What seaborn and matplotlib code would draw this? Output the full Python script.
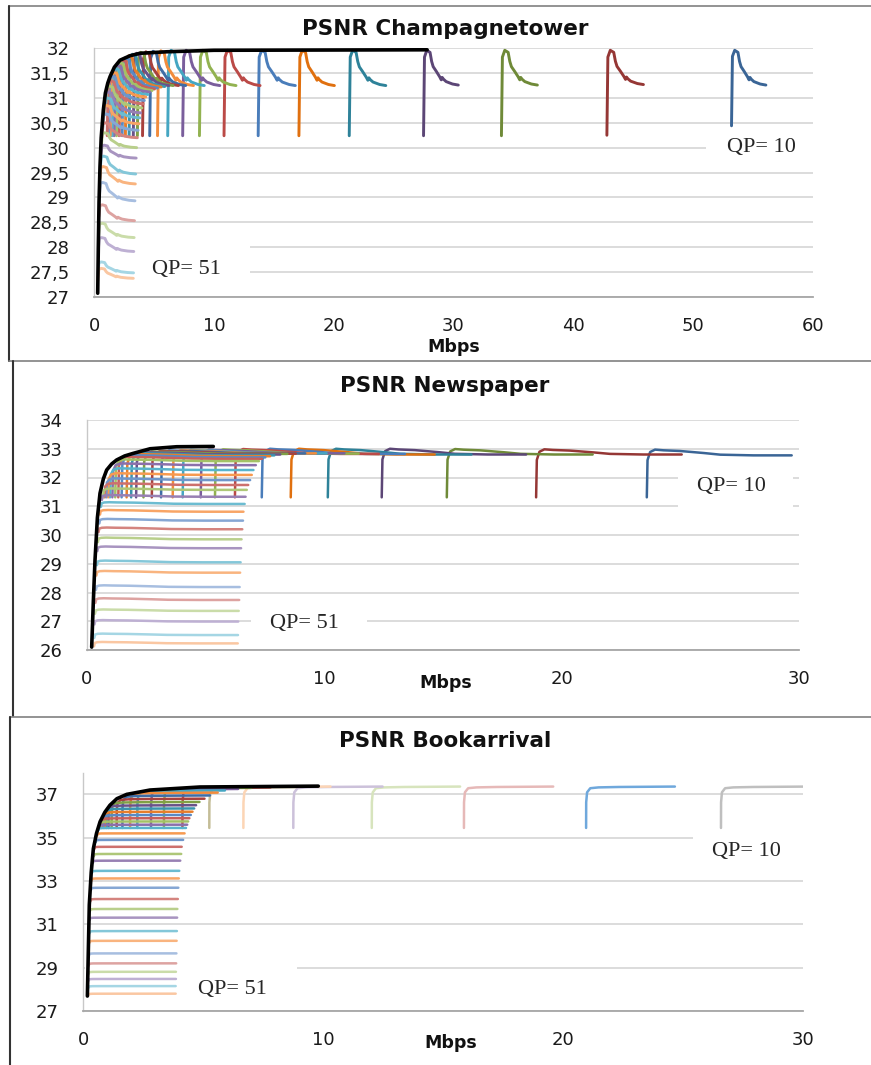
import numpy as np
import pandas as pd
import matplotlib
matplotlib.use("Agg")
import matplotlib.pyplot as plt
from matplotlib.lines import Line2D
from matplotlib.patches import Rectangle
from matplotlib.ticker import MultipleLocator, FuncFormatter
import seaborn as sns

# QP values of the traces (QP=10 is the rightmost trace, QP=51 the lowest)
QP = list(range(10, 52))

# ---- PSNR Champagnetower: start x, bottom y, peak y, final y, end x ----
CH_X0 = [53.2, 42.8, 34.0, 27.5, 21.3, 17.1, 13.7, 10.85, 8.8, 7.4, 6.15, 5.3, 4.65, 4.05,
         3.62, 3.28, 2.93, 2.62, 2.35, 2.1, 1.88, 1.68, 1.5, 1.35, 1.22, 1.1, 1.0, 0.92,
         0.85, 0.78, 0.72, 0.66, 0.61, 0.57, 0.53, 0.49, 0.45, 0.41, 0.38, 0.36, 0.33, 0.32]
CH_Y0 = [30.44, 30.25, 30.24, 30.24, 30.24, 30.24, 30.24, 30.24, 30.24, 30.24, 30.24, 30.24,
         30.24, 30.24, 30.24, 30.24, 30.24, 30.24, 30.24, 30.24, 30.24, 30.24, 30.24, 30.24,
         30.24, 30.24, 30.9, 30.78, 30.66, 30.52, 30.36, 30.2, 30.02, 29.8, 29.6, 29.38,
         29.05, 28.62, 28.25, 27.95, 27.47, 27.33]
CH_YPK = [31.96, 31.96, 31.96, 31.96, 31.96, 31.96, 31.96, 31.96, 31.96, 31.96, 31.96, 31.95,
          31.94, 31.93, 31.92, 31.9, 31.88, 31.85, 31.81, 31.77, 31.72, 31.66, 31.6, 31.52,
          31.44, 31.35, 31.24, 31.12, 31.0, 30.85, 30.68, 30.5, 30.3, 30.05, 29.83, 29.62,
          29.3, 28.85, 28.48, 28.19, 27.7, 27.57]
CH_YEND = [31.26, 31.27, 31.26, 31.26, 31.25, 31.25, 31.25, 31.25, 31.25, 31.25, 31.25, 31.25,
           31.25, 31.25, 31.25, 31.25, 31.23, 31.22, 31.2, 31.18, 31.15, 31.12, 31.07, 31.02,
           30.95, 30.88, 30.8, 30.7, 30.6, 30.48, 30.35, 30.2, 30.0, 29.79, 29.47, 29.27,
           28.93, 28.53, 28.19, 27.91, 27.48, 27.37]
CH_X1 = [56.07, 45.85, 37.0, 30.4, 24.35, 20.06, 16.8, 13.86, 11.85, 10.5, 9.2, 8.3, 7.65,
         7.05, 6.6, 6.25, 5.9, 5.6, 5.3, 5.05, 4.85, 4.65, 4.5, 4.32, 4.2, 4.1, 4.0, 3.9,
         3.82, 3.75, 3.68, 3.62, 3.56, 3.52, 3.48, 3.45, 3.42, 3.38, 3.35, 3.32, 3.3, 3.28]
# shape of one trace (read from the QP=10 trace): x fraction of span, rise/decay fraction
CH_DX = [0.0, 0.027, 0.093, 0.187, 0.233, 0.277, 0.37, 0.463, 0.51, 0.537, 0.573, 0.65, 0.833, 1.0]
CH_T = [-1, -0.08, 0, 0.06, 0.32, 0.47, 0.61, 0.76, 0.85, 0.78, 0.83, 0.90, 0.97, 1.0]
CH_ENV_X = [0.31, 0.36, 0.42, 0.5, 0.6, 0.78, 0.95, 1.15, 1.34, 1.7, 2.17, 3.0, 3.84, 6.07, 10.0, 27.8]
CH_ENV_Y = [27.07, 28.0, 28.9, 29.62, 30.2, 30.76, 31.1, 31.3, 31.43, 31.62, 31.76, 31.85, 31.9,
            31.93, 31.96, 31.97]

# ---- PSNR Newspaper ----
NP_X0 = [23.58, 18.92, 15.16, 12.42, 10.15, 8.59, 7.37, 6.24, 5.4, 4.8, 4.04, 3.62, 3.13,
         2.74, 2.39, 2.08, 1.87, 1.68, 1.47, 1.33, 1.2, 1.08, 0.98, 0.9, 0.82, 0.75, 0.69,
         0.64, 0.6, 0.56, 0.53, 0.5, 0.47, 0.45, 0.43, 0.41, 0.39, 0.37, 0.35, 0.33, 0.32, 0.31]
NP_Y0 = [31.31, 31.31, 31.31, 31.31, 31.31, 31.31, 31.31, 31.31, 31.31, 31.31, 31.31, 31.31,
         31.31, 31.31, 31.31, 31.31, 31.31, 31.31, 31.31, 31.31, 31.31, 31.31, 31.31, 31.31,
         31.31, 31.31, 31.31, 31.22, 30.98, 30.71, 30.4, 30.1, 29.75, 29.44, 28.95, 28.59,
         28.09, 27.64, 27.26, 26.89, 26.42, 26.13]
NP_YPK = [32.97, 32.98, 32.99, 33.0, 33.0, 33.0, 33.0, 32.99, 32.98, 32.97, 32.96, 32.95,
          32.94, 32.92, 32.9, 32.88, 32.85, 32.82, 32.78, 32.72, 32.63, 32.49, 32.32, 32.15,
          31.97, 31.8, 31.62, 31.39, 31.14, 30.87, 30.56, 30.26, 29.91, 29.6, 29.11, 28.75,
          28.25, 27.8, 27.41, 27.04, 26.57, 26.28]
NP_YEND = [32.77, 32.8, 32.8, 32.8, 32.8, 32.8, 32.82, 32.82, 32.83, 32.84, 32.84, 32.84,
           32.84, 32.83, 32.82, 32.8, 32.77, 32.74, 32.7, 32.65, 32.57, 32.43, 32.26, 32.09,
           31.91, 31.74, 31.57, 31.33, 31.08, 30.81, 30.5, 30.2, 29.85, 29.54, 29.05, 28.69,
           28.19, 27.74, 27.36, 26.99, 26.52, 26.23]
NP_X1 = [29.68, 25.05, 21.3, 18.5, 16.2, 14.65, 13.4, 12.3, 11.45, 10.85, 10.1, 9.65, 9.2,
         8.8, 8.45, 8.15, 7.9, 7.72, 7.52, 7.38, 7.25, 7.12, 7.02, 6.95, 6.88, 6.8, 6.74,
         6.69, 6.65, 6.6, 6.58, 6.55, 6.52, 6.5, 6.48, 6.46, 6.44, 6.42, 6.4, 6.38, 6.37, 6.36]
NP_DX = [0, 0.005, 0.023, 0.057, 0.115, 0.23, 0.392, 0.507, 0.736, 1.0]
NP_T = [-1, -0.22, -0.05, 0, 0.12, 0.24, 0.59, 0.88, 1.0, 1.0]
NP_ENV_X = [0.21, 0.28, 0.35, 0.45, 0.56, 0.7, 0.84, 1.05, 1.26, 1.6, 1.96, 2.67, 3.79, 5.33]
NP_ENV_Y = [26.1, 27.7, 29.13, 30.6, 31.45, 31.95, 32.26, 32.47, 32.61, 32.75, 32.84, 33.0,
            33.07, 33.08]

# ---- PSNR Bookarrival (traces settle to a flat level) ----
BA_X0 = [26.57, 20.95, 15.86, 12.02, 8.75, 6.67, 5.25, 4.13, 3.36, 2.82, 2.25, 1.95, 1.63,
         1.39, 1.18, 1.05, 0.97, 0.9, 0.83, 0.77, 0.72, 0.68, 0.63, 0.58, 0.52, 0.46, 0.44,
         0.4, 0.36, 0.34, 0.32, 0.3, 0.28, 0.27, 0.26, 0.25, 0.24, 0.23, 0.22, 0.21, 0.21, 0.2]
BA_Y0 = [35.45, 35.45, 35.45, 35.45, 35.45, 35.45, 35.45, 35.45, 35.45, 35.45, 35.45, 35.45,
         35.45, 35.45, 35.45, 35.45, 35.45, 35.45, 35.45, 35.45, 35.45, 35.45, 35.35, 35.1,
         34.8, 34.48, 34.15, 33.84, 33.37, 33.02, 32.59, 32.07, 31.61, 31.21, 30.59, 30.14,
         29.56, 29.1, 28.71, 28.38, 28.05, 27.7]
BA_LEVEL = [37.36, 37.36, 37.36, 37.36, 37.36, 37.36, 37.34, 37.32, 37.3, 37.25, 37.18, 37.08,
            36.95, 36.8, 36.65, 36.5, 36.35, 36.2, 36.05, 35.9, 35.75, 35.6, 35.45, 35.2,
            34.9, 34.58, 34.25, 33.94, 33.47, 33.12, 32.69, 32.17, 31.71, 31.31, 30.69, 30.24,
            29.66, 29.2, 28.81, 28.48, 28.15, 27.8]
BA_X1 = [30.22, 24.65, 19.58, 15.7, 12.47, 10.3, 8.9, 7.8, 7.0, 6.45, 5.9, 5.6, 5.28, 5.05,
         4.84, 4.7, 4.62, 4.55, 4.48, 4.42, 4.37, 4.33, 4.28, 4.22, 4.16, 4.1, 4.08, 4.04,
         4.0, 3.98, 3.96, 3.94, 3.92, 3.91, 3.9, 3.89, 3.88, 3.87, 3.86, 3.86, 3.85, 3.85]
BA_DX = [0, 0.001, 0.011, 0.047, 0.14, 0.37, 1.0]
BA_T = [-1, -0.38, -0.14, -0.04, -0.02, -0.01, 0]
BA_ENV_X = [0.17, 0.21, 0.25, 0.33, 0.42, 0.55, 0.7, 0.9, 1.11, 1.4, 1.81, 2.78, 4.86, 9.79]
BA_ENV_Y = [27.69, 29.8, 31.9, 33.4, 34.5, 35.2, 35.74, 36.18, 36.5, 36.8, 37.0, 37.2, 37.34, 37.38]

# Excel-like series colours: 6 hues, shade changes every 6 series
SHADES = [
    ['#3A6596', '#953735', '#6F8A38', '#5C4676', '#2E8299', '#E0700F'],
    ['#4A7DBA', '#BB4A47', '#92B250', '#7A5E9C', '#45A6C2', '#F28C3C'],
    ['#3F6DA6', '#A8413E', '#80A046', '#6A5289', '#3B94AD', '#E67E2C'],
    ['#5A8AC4', '#C8605C', '#A3C166', '#8B70AB', '#58B4CC', '#F79A50'],
    ['#6F96CB', '#CD706D', '#AEC778', '#9880B3', '#6CBCD1', '#F8A566'],
    ['#86A7D4', '#D4847F', '#B9CF8C', '#A894C0', '#84C7D9', '#F9B47F'],
    ['#A7BEE0', '#DDA3A1', '#CADCA9', '#BEB0D3', '#A5D6E4', '#FAC7A2'],
]
BA_TOP_COLORS = ['#BFBFBF', '#6FA8DC', '#E6B9B8', '#D7E4BD', '#CCC1DA', '#FCD5B5', '#C4BD97']

sns.set_style("white")
plt.rcParams['font.family'] = ['DejaVu Sans']

W, H = 871, 1065
fig = plt.figure(figsize=(W / 100, H / 100), dpi=100)


def fx(px):
    return px / W


def fy(py):
    return 1 - py / H


def trace_frame(x0, y0, ypk, yend, x1, dx, tt):
    rows = []
    for k, q in enumerate(QP):
        for d, t in zip(dx, tt):
            x = x0[k] + d * (x1[k] - x0[k])
            if t < 0:
                y = ypk[k] + t * (ypk[k] - y0[k])
            else:
                y = ypk[k] - t * (ypk[k] - yend[k])
            rows.append((f"QP{q}", x, y))
    return pd.DataFrame(rows, columns=["qp", "mbps", "psnr"])


def draw_panel(rect, df, colors, env_x, env_y, lw, xlim, ylim, ystep, comma, covers):
    ax = fig.add_axes(rect)
    order = [f"QP{q}" for q in QP]
    pal = dict(zip(order, colors))
    # white boxes behind the QP labels hide parts of the gridlines, as in the original
    for (cx0, cy0, cx1, cy1) in covers:
        ax.add_patch(Rectangle((cx0, cy0), cx1 - cx0, cy1 - cy0, facecolor='white',
                               edgecolor='none', zorder=1.2))
    sns.lineplot(data=df, x="mbps", y="psnr", hue="qp", hue_order=order, palette=pal,
                 sort=False, estimator=None, legend=False, linewidth=lw, ax=ax)
    sns.lineplot(x=env_x, y=env_y, color='black', sort=False, estimator=None,
                 linewidth=2.6, ax=ax)
    ax.lines[-1].set_zorder(5)
    for ln in ax.lines:
        ln.set_solid_capstyle('round')
        ln.set_solid_joinstyle('round')
    ax.set_xlim(*xlim)
    ax.set_ylim(*ylim)
    ax.xaxis.set_major_locator(MultipleLocator(10))
    ax.yaxis.set_major_locator(MultipleLocator(ystep))
    if comma:
        ax.yaxis.set_major_formatter(FuncFormatter(lambda v, p: f"{v:g}".replace('.', ',')))
    else:
        ax.yaxis.set_major_formatter(FuncFormatter(lambda v, p: f"{v:g}"))
    ax.set_axisbelow(True)
    ax.yaxis.grid(True, color='#D9D9D9', linewidth=1.3)
    ax.xaxis.grid(False)
    ax.set_xlabel('')
    ax.set_ylabel('')
    for s in ['top', 'right']:
        ax.spines[s].set_visible(False)
    ax.spines['left'].set_color('#C8C8C8')
    ax.spines['left'].set_linewidth(1.0)
    ax.spines['bottom'].set_color('#A6A6A6')
    ax.spines['bottom'].set_linewidth(1.3)
    ax.tick_params(axis='y', direction='out', length=6.5, width=1.3, color='#D9D9D9',
                   pad=11, labelsize=13, labelcolor='#1a1a1a')
    ax.tick_params(axis='x', direction='out', length=4.5, width=1.0, color='#A6A6A6',
                   pad=10, labelsize=13, labelcolor='#1a1a1a')
    return ax


def qp_colors(top=None):
    cols = [SHADES[k // 6][k % 6] for k in range(len(QP))]
    if top:
        cols[:len(top)] = top
    return cols


# panel 1
ax1 = draw_panel([fx(94), fy(296.7), fx(813) - fx(94), fy(48.3) - fy(296.7)],
                 trace_frame(CH_X0, CH_Y0, CH_YPK, CH_YEND, CH_X1, CH_DX, CH_T),
                 qp_colors(), CH_ENV_X, CH_ENV_Y, 2.1, (0, 60), (27, 32), 0.5, True,
                 [(0.05, 27.2, 13.0, 28.3), (51.1, 29.8, 61, 30.2)])
ax1.text(4.8, 27.55, "QP= 51", fontsize=16, family='Liberation Serif', va='center', zorder=6)
ax1.text(52.8, 30.0, "QP= 10", fontsize=16, family='Liberation Serif', va='center', zorder=6)

# panel 2
ax2 = draw_panel([fx(86.7), fy(650), fx(799.3) - fx(86.7), fy(420) - fy(650)],
                 trace_frame(NP_X0, NP_Y0, NP_YPK, NP_YEND, NP_X1, NP_DX, NP_T),
                 qp_colors(), NP_ENV_X, NP_ENV_Y, 1.8, (0, 30), (26, 34), 1, False,
                 [(6.9, 26.6, 11.8, 27.4), (24.9, 30.6, 29.75, 32.4)])
ax2.text(7.7, 26.93, "QP= 51", fontsize=16, family='Liberation Serif', va='center', zorder=6)
ax2.text(25.7, 31.68, "QP= 10", fontsize=16, family='Liberation Serif', va='center', zorder=6)

# panel 3
ax3 = draw_panel([fx(83.3), fy(1011), fx(803.3) - fx(83.3), fy(772.7) - fy(1011)],
                 trace_frame(BA_X0, BA_Y0, BA_LEVEL, BA_LEVEL, BA_X1, BA_DX, BA_T),
                 qp_colors(BA_TOP_COLORS), BA_ENV_X, BA_ENV_Y, 1.8, (0, 30), (27, 38), 2, False,
                 [(0.05, 28.6, 8.9, 29.4), (25.4, 34.6, 30.5, 35.4)])
ax3.set_yticks([27, 29, 31, 33, 35, 37])
ax3.text(4.8, 27.99, "QP= 51", fontsize=16, family='Liberation Serif', va='center', zorder=6)
ax3.text(26.2, 34.38, "QP= 10", fontsize=16, family='Liberation Serif', va='center', zorder=6)

# titles and axis names
for title, ty in [("PSNR Champagnetower", 29), ("PSNR Newspaper", 386), ("PSNR Bookarrival", 741)]:
    fig.text(fx(445), fy(ty), title, ha='center', va='center', fontsize=15.5,
             fontweight='bold', color='#111111')
for mx, my in [(454, 347), (446, 682.7), (451, 1043)]:
    fig.text(fx(mx), fy(my), "Mbps", ha='center', va='center', fontsize=12.5,
             fontweight='bold', color='#111111')


# panel frames
def fline(xs, ys, color, lw):
    fig.add_artist(Line2D([fx(v) for v in xs], [fy(v) for v in ys], color=color,
                          linewidth=lw, transform=fig.transFigure))


fline([8.5, 871], [6, 6], '#808080', 1.2)
fline([8.5, 8.5], [6, 360.5], '#333333', 1.5)
fline([8.5, 871], [360.5, 360.5], '#808080', 1.2)
fline([13, 13], [360.5, 716], '#333333', 1.5)
fline([10, 871], [716.5, 716.5], '#808080', 1.2)
fline([10, 10], [716.5, 1065], '#333333', 1.5)

fig.savefig("out.png", dpi=100)
